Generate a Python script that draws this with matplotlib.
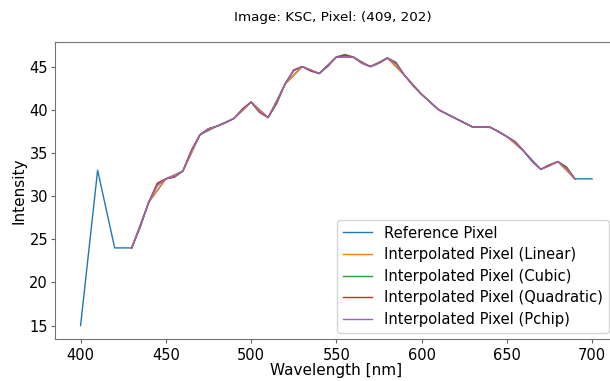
import matplotlib
matplotlib.use("Agg")
import matplotlib.pyplot as plt

# reference pixel, 10 nm steps
ref_wl = [400, 410, 420, 430, 440, 450, 460, 470, 480, 490, 500, 510, 520, 530, 540, 550,
          560, 570, 580, 590, 600, 610, 620, 630, 640, 650, 660, 670, 680, 690, 700]
ref_val = [15.0, 33.0, 24.0, 24.0, 29.3, 32.0, 32.9, 37.1, 38.1, 39.0, 40.9, 39.1, 43.0, 45.0,
           44.2, 46.1, 46.1, 45.0, 46.0, 44.0, 41.8, 40.0, 39.0, 38.0, 38.0, 36.9, 35.2, 33.1,
           34.0, 32.0, 32.0]

# interpolated curves, 5 nm steps from 430 to 690
interp_wl = list(range(430, 695, 5))
linear = [24.0, 26.6, 29.3, 30.7, 32.0, 32.4, 32.9, 35.0, 37.1, 37.7, 38.1, 38.5, 39.0, 39.9,
          40.9, 40.0, 39.1, 41.0, 43.0, 44.0, 45.0, 44.6, 44.2, 45.1, 46.1, 46.4, 46.1, 45.5,
          45.0, 45.5, 46.0, 45.0, 44.0, 42.9, 41.8, 40.9, 40.0, 39.5, 39.0, 38.5, 38.0, 38.0,
          38.0, 37.5, 36.9, 36.1, 35.2, 34.0, 33.1, 33.6, 34.0, 33.0, 32.0]
cubic = [24.0, 26.4, 29.3, 31.4, 32.0, 32.2, 32.9, 35.3, 37.1, 37.8, 38.1, 38.5, 39.0, 40.1,
         40.9, 39.7, 39.1, 40.7, 43.0, 44.6, 45.0, 44.5, 44.2, 45.1, 46.1, 46.4, 46.1, 45.4,
         45.0, 45.4, 46.0, 45.5, 44.0, 42.8, 41.8, 40.9, 40.0, 39.5, 39.0, 38.5, 38.0, 38.0,
         38.0, 37.5, 36.9, 36.3, 35.2, 34.0, 33.1, 33.6, 34.0, 33.4, 32.0]
quadratic = [24.0, 26.5, 29.3, 31.5, 32.0, 32.2, 32.9, 35.3, 37.1, 37.8, 38.1, 38.5, 39.0, 40.1,
             40.9, 39.7, 39.1, 40.8, 43.0, 44.6, 45.0, 44.5, 44.2, 45.1, 46.1, 46.3, 46.1, 45.4,
             45.0, 45.4, 46.0, 45.4, 44.0, 42.8, 41.8, 40.9, 40.0, 39.5, 39.0, 38.5, 38.0, 38.0,
             38.0, 37.5, 36.9, 36.3, 35.2, 34.0, 33.1, 33.6, 34.0, 33.3, 32.0]
pchip = [24.0, 26.5, 29.3, 31.2, 32.0, 32.3, 32.9, 35.2, 37.1, 37.8, 38.1, 38.5, 39.0, 40.0,
         40.9, 39.8, 39.1, 40.9, 43.0, 44.5, 45.0, 44.6, 44.2, 45.0, 46.1, 46.1, 46.1, 45.4,
         45.0, 45.4, 46.0, 45.3, 44.0, 42.8, 41.8, 40.9, 40.0, 39.5, 39.0, 38.5, 38.0, 38.0,
         38.0, 37.5, 36.9, 36.3, 35.2, 34.0, 33.1, 33.5, 34.0, 33.2, 32.0]

SERIES = [("Interpolated Pixel (Linear)", linear),
          ("Interpolated Pixel (Cubic)", cubic),
          ("Interpolated Pixel (Quadratic)", quadratic),
          ("Interpolated Pixel (Pchip)", pchip)]

fig = plt.figure(figsize=(6.1, 3.81), dpi=100)
# axes runs slightly past the right edge, as in the reference crop
ax = fig.add_axes([55 / 610, 42 / 381, 562.6 / 610, 297 / 381])

ax.plot(ref_wl, ref_val, lw=1.0, label="Reference Pixel")
for name, vals in SERIES:
    ax.plot(interp_wl, vals, lw=1.0, label=name)

ax.set_xlim(385, 715)
ax.set_ylim(13.45, 47.85)
ax.set_xticks([400, 450, 500, 550, 600, 650, 700])
ax.set_yticks([15, 20, 25, 30, 35, 40, 45])
ax.tick_params(labelsize=10.5, color="0.4", length=3, width=0.8)
ax.tick_params(axis="y", pad=2)
for s in ax.spines.values():
    s.set_color("0.45")
    s.set_linewidth(0.8)
ax.set_xlabel("Wavelength [nm]", fontsize=11, labelpad=0)
ax.set_ylabel("Intensity", fontsize=11, labelpad=2)

fig.text(333 / 610, 1 - 17 / 381, "Image: KSC, Pixel: (409, 202)",
         ha="center", va="center", fontsize=9.7)

ax.legend(loc="lower right", fontsize=10.6, bbox_to_anchor=(609 / 610, 48 / 381),
          bbox_transform=fig.transFigure, borderaxespad=0, handlelength=2.0,
          borderpad=0.4, labelspacing=0.45)

fig.savefig("out.png", dpi=100)
